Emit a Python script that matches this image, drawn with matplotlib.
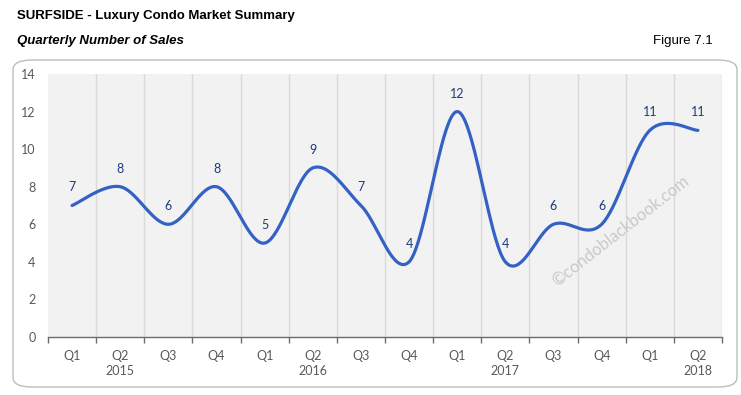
import numpy as np
import matplotlib

matplotlib.use("Agg")

import matplotlib.pyplot as plt
from matplotlib.patches import FancyBboxPatch

quarters = ["Q1", "Q2", "Q3", "Q4", "Q1", "Q2", "Q3", "Q4",
            "Q1", "Q2", "Q3", "Q4", "Q1", "Q2"]
years = ["2015", "2016", "2017", "2018"]
year_pos = [1, 5, 9, 13]
sales = [7, 8, 6, 8, 5, 9, 7, 4, 12, 4, 6, 6, 11, 11]

LINE = '#3461c4'
LABEL = '#1f3c78'
TICK = '#595959'


def smooth(y, steps=40):
    # Catmull-Rom style bezier smoothing, like spreadsheet "smoothed line"
    x = np.arange(len(y), dtype=float)
    y = np.asarray(y, dtype=float)
    pts = np.column_stack([x, y])
    out = []
    n = len(pts)
    t = np.linspace(0, 1, steps)[:, None]
    for i in range(n - 1):
        p0 = pts[max(i - 1, 0)]
        p1 = pts[i]
        p2 = pts[i + 1]
        p3 = pts[min(i + 2, n - 1)]
        c1 = p1 + (p2 - p0) / 6
        c2 = p2 - (p3 - p1) / 6
        seg = ((1 - t) ** 3) * p1 + 3 * ((1 - t) ** 2) * t * c1 + 3 * (1 - t) * t ** 2 * c2 + t ** 3 * p2
        out.append(seg if i == 0 else seg[1:])
    out = np.vstack(out)
    return out[:, 0], out[:, 1]


fig = plt.figure(figsize=(7.41, 3.95), dpi=100, facecolor='white')
W, H = 741, 395

# rounded frame around chart
frame = FancyBboxPatch((13 / W, (H - 387) / H), (737 - 13) / W, (387 - 60) / H,
                       boxstyle="round,pad=0,rounding_size=0.025",
                       transform=fig.transFigure, facecolor='none',
                       edgecolor='#bdbdbd', linewidth=1.0, zorder=-1)
fig.patches.append(frame)

fig.text(17 / W, 1 - 16 / H, "SURFSIDE - Luxury Condo Market Summary", fontsize=9.5,
         fontweight='bold', family='Liberation Sans', va='center', ha='left')
fig.text(17 / W, 1 - 41 / H, "Quarterly Number of Sales", fontsize=9.5,
         fontweight='bold', style='italic', family='Liberation Sans', va='center', ha='left')
fig.text(713 / W, 1 - 41 / H, "Figure 7.1", fontsize=9.5, family='Liberation Sans',
         va='center', ha='right')

ax = fig.add_axes([48 / W, (H - 337) / H, (722 - 48) / W, (337 - 74) / H])
ax.set_facecolor('#f2f2f2')
n = len(sales)
ax.set_xlim(-0.5, n - 0.5)
ax.set_ylim(0, 14)

for b in np.arange(0.5, n - 0.5 + 0.01, 1.0):
    ax.axvline(b, color='#dadada', linewidth=1.0, zorder=1)

xs, ys = smooth(sales)
ax.plot(xs, ys, color=LINE, linewidth=2.3, solid_capstyle='round', zorder=3)

for i, v in enumerate(sales):
    ax.annotate(str(v), (i, v), xytext=(0, 13), textcoords='offset points',
                ha='center', va='center', fontsize=9, color=LABEL, family='Lato')

for s in ['top', 'right', 'left']:
    ax.spines[s].set_visible(False)
ax.spines['bottom'].set_color('#6b6b6b')
ax.spines['bottom'].set_linewidth(1.0)

ax.set_yticks(range(0, 15, 2))
ax.tick_params(axis='y', length=0, pad=9, labelsize=9, labelcolor=TICK)
ax.set_xticks(range(n))
ax.set_xticklabels(quarters)
ax.tick_params(axis='x', which='major', length=0, pad=9, labelsize=9, labelcolor=TICK)
ax.set_xticks(np.arange(-0.5, n, 1.0), minor=True)
ax.tick_params(axis='x', which='minor', length=4, width=1, color='#6b6b6b', direction='out')
for lab in ax.get_xticklabels() + ax.get_yticklabels():
    lab.set_family('Lato')

for p, yr in zip(year_pos, years):
    ax.text(p, -0.128, yr, transform=ax.get_xaxis_transform(), ha='center', va='center',
            fontsize=9, color=TICK, family='Lato')

fig.text(620 / W, 1 - 231 / H, "\u00a9condoblackbook.com", rotation=38, fontsize=12,
         color='#c9c9c9', ha='center', va='center', family='Lato', zorder=5)

fig.savefig('out.png', dpi=100, facecolor='white')
